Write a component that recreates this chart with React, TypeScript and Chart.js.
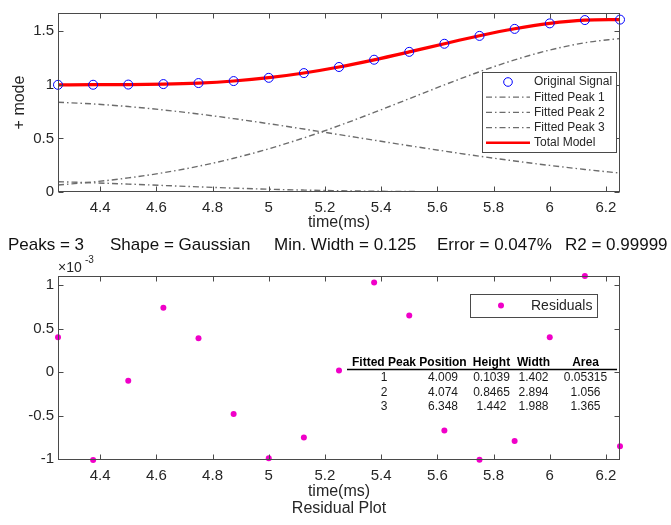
import React, { useEffect, useRef } from "react";
import { Chart, registerables } from "chart.js";

Chart.register(...registerables);

// ---------- data ----------
const timeMs = [4.25, 4.375, 4.5, 4.625, 4.75, 4.875, 5.0, 5.125, 5.25, 5.375, 5.5, 5.625, 5.75, 5.875, 6.0, 6.125, 6.25];
const originalSignal = [0.9998, 1.0005, 1.0023, 1.0068, 1.0164, 1.0349, 1.0653, 1.1094, 1.1663, 1.2341, 1.3076, 1.383, 1.4564, 1.5218, 1.5732, 1.6042, 1.6082];
const fittedPeak1 = [0.0957, 0.086, 0.0739, 0.0608, 0.0479, 0.0361, 0.026, 0.0179, 0.0118, 0.0075, 0.0045, 0.0026, 0.0014, 0.0008, 0.0004, 0.0002, 0.0001];
const fittedPeak2 = [0.8379, 0.8215, 0.7971, 0.7656, 0.7277, 0.6846, 0.6373, 0.5872, 0.5356, 0.4834, 0.4318, 0.3818, 0.334, 0.2893, 0.2479, 0.2103, 0.1766];
const fittedPeak3 = [0.0658, 0.094, 0.1314, 0.1797, 0.2404, 0.3147, 0.403, 0.505, 0.6189, 0.7422, 0.8707, 0.9993, 1.122, 1.2325, 1.3245, 1.3926, 1.4323];
const totalModel = [0.9994, 1.0015, 1.0024, 1.0061, 1.016, 1.0354, 1.0663, 1.1101, 1.1663, 1.2331, 1.307, 1.3837, 1.4574, 1.5226, 1.5728, 1.6031, 1.609];
// residuals in units of 1e-3
const residualsE3 = [0.4, -1.008, -0.1, 0.74, 0.39, -0.48, -0.99, -0.75, 0.02, 1.03, 0.65, -0.67, -1.005, -0.79, 0.4, 1.104, -0.85];

const xTicks = [4.4, 4.6, 4.8, 5, 5.2, 5.4, 5.6, 5.8, 6, 6.2];
const topYTicks = [0, 0.5, 1, 1.5];
const resYTicks = [-1, -0.5, 0, 0.5, 1];

const legendLabels = ["Original Signal", "Fitted Peak 1", "Fitted Peak 2", "Fitted Peak 3", "Total Model"];
const residualLegendLabel = "Residuals";
const tableHeader = ["Fitted Peak", "Position", "Height", "Width", "Area"];
const tableRows = [
  ["1", "4.009", "0.1039", "1.402", "0.05315"],
  ["2", "4.074", "0.8465", "2.894", "1.056"],
  ["3", "6.348", "1.442", "1.988", "1.365"],
];
const statsItems = ["Peaks = 3", "Shape = Gaussian", "Min. Width = 0.125", "Error = 0.047%", "R2 = 0.99999"];
const xLabel = "time(ms)";
const topYLabel = "+ mode";
const residualTitle = "Residual Plot";

// ---------- styles ----------
const FONT = "'Liberation Sans', Arial, Helvetica, sans-serif";
const AXIS_COLOR = "#4a4a4a";
const TEXT_COLOR = "#262626";
const PEAK_COLOR = "#6c6c6c";
const PEAK_DASH = [6, 3, 1.5, 3];
const BLUE = "#0000ff";
const RED = "#ff0000";
const MAGENTA = "#f000c8";
const W = 671;
const H = 525;

const pts = (ys: number[]) => timeMs.map((x, i) => ({ x, y: ys[i] }));
const fmt = (v: number) => String(Number(v.toFixed(2)));

function drawFrameAndTicks(chart: any, yTicks: number[]) {
  const { ctx, chartArea: a, scales } = chart;
  const L = Math.round(a.left) + 0.5;
  const R = Math.round(a.right) - 0.5;
  const T = Math.round(a.top) + 0.5;
  const B = Math.round(a.bottom) - 0.5;
  ctx.save();
  ctx.strokeStyle = AXIS_COLOR;
  ctx.lineWidth = 1;
  ctx.strokeRect(L, T, R - L, B - T);
  const tl = 5;
  ctx.beginPath();
  xTicks.forEach((v) => {
    const px = Math.round(scales.x.getPixelForValue(v)) + 0.5;
    ctx.moveTo(px, B); ctx.lineTo(px, B - tl);
    ctx.moveTo(px, T); ctx.lineTo(px, T + tl);
  });
  yTicks.forEach((v) => {
    const py = Math.round(scales.y.getPixelForValue(v)) + 0.5;
    ctx.moveTo(L, py); ctx.lineTo(L + tl, py);
    ctx.moveTo(R, py); ctx.lineTo(R - tl, py);
  });
  ctx.stroke();
  ctx.restore();
}

const topPlugin = {
  id: "topDecor",
  afterDatasetsDraw(chart: any) {
    const { ctx } = chart;
    drawFrameAndTicks(chart, topYTicks);
    // legend
    ctx.save();
    const bx = 482, by = 72, bw = 134, bh = 80;
    ctx.fillStyle = "#ffffff";
    ctx.fillRect(bx, by, bw, bh);
    ctx.strokeStyle = AXIS_COLOR;
    ctx.lineWidth = 1;
    ctx.strokeRect(bx + 0.5, by + 0.5, bw, bh);
    ctx.font = `12px ${FONT}`;
    ctx.textBaseline = "middle";
    ctx.textAlign = "left";
    legendLabels.forEach((lab, i) => {
      const y = 82 + i * 15.2;
      if (i === 0) {
        ctx.beginPath();
        ctx.strokeStyle = BLUE;
        ctx.lineWidth = 1;
        ctx.arc(508, y, 4.3, 0, Math.PI * 2);
        ctx.stroke();
      } else if (i < 4) {
        ctx.beginPath();
        ctx.strokeStyle = PEAK_COLOR;
        ctx.lineWidth = 1.3;
        ctx.setLineDash(PEAK_DASH);
        ctx.moveTo(486, y); ctx.lineTo(530, y);
        ctx.stroke();
        ctx.setLineDash([]);
      } else {
        ctx.beginPath();
        ctx.strokeStyle = RED;
        ctx.lineWidth = 2.5;
        ctx.moveTo(486, y); ctx.lineTo(530, y);
        ctx.stroke();
      }
      ctx.fillStyle = TEXT_COLOR;
      ctx.fillText(lab, 534, y);
    });
    ctx.restore();
  },
  afterDraw(chart: any) {
    const { ctx, chartArea: a } = chart;
    ctx.save();
    ctx.fillStyle = TEXT_COLOR;
    ctx.textBaseline = "middle";
    ctx.textAlign = "center";
    ctx.font = `16px ${FONT}`;
    ctx.fillText(xLabel, (a.left + a.right) / 2, 223);
    ctx.save();
    ctx.translate(20, (a.top + a.bottom) / 2);
    ctx.rotate(-Math.PI / 2);
    ctx.fillText(topYLabel, 0, 0);
    ctx.restore();
    // stats line
    ctx.textAlign = "left";
    ctx.fillStyle = "#111111";
    ctx.font = `17px ${FONT}`;
    const xs = [8, 110, 274, 437, 565];
    statsItems.forEach((s, i) => ctx.fillText(s, xs[i], 245));
    ctx.restore();
  },
};

const bottomPlugin = {
  id: "bottomDecor",
  afterDatasetsDraw(chart: any) {
    const { ctx } = chart;
    drawFrameAndTicks(chart, resYTicks);
    ctx.save();
    // legend
    const bx = 470, by = 294, bw = 127, bh = 23;
    ctx.fillStyle = "#ffffff";
    ctx.fillRect(bx, by, bw, bh);
    ctx.strokeStyle = AXIS_COLOR;
    ctx.lineWidth = 1;
    ctx.strokeRect(bx + 0.5, by + 0.5, bw, bh);
    ctx.beginPath();
    ctx.fillStyle = MAGENTA;
    ctx.arc(501, 305.5, 3, 0, Math.PI * 2);
    ctx.fill();
    ctx.fillStyle = TEXT_COLOR;
    ctx.font = `14px ${FONT}`;
    ctx.textBaseline = "middle";
    ctx.textAlign = "left";
    ctx.fillText(residualLegendLabel, 531, 306);
    // table
    const cx = [384, 443, 491.5, 533.5, 585.5];
    ctx.textAlign = "center";
    ctx.fillStyle = "#000000";
    ctx.font = `bold 12px ${FONT}`;
    tableHeader.forEach((h, i) => ctx.fillText(h, cx[i], 362.5));
    ctx.beginPath();
    ctx.strokeStyle = "#000000";
    ctx.lineWidth = 1.5;
    ctx.moveTo(347, 369.5); ctx.lineTo(617, 369.5);
    ctx.stroke();
    ctx.font = `12px ${FONT}`;
    ctx.fillStyle = "#1a1a1a";
    tableRows.forEach((row, r) => {
      const y = 378 + r * 14.2;
      row.forEach((c, i) => ctx.fillText(c, cx[i], y));
    });
    ctx.restore();
  },
  afterDraw(chart: any) {
    const { ctx, chartArea: a } = chart;
    ctx.save();
    ctx.fillStyle = TEXT_COLOR;
    ctx.textBaseline = "middle";
    ctx.textAlign = "center";
    ctx.font = `16px ${FONT}`;
    ctx.fillText(xLabel, (a.left + a.right) / 2, 492);
    ctx.fillText(residualTitle, (a.left + a.right) / 2, 509);
    // exponent label
    ctx.textAlign = "left";
    ctx.font = `14px ${FONT}`;
    ctx.fillText("\u00d710", 58, 268);
    ctx.font = `10px ${FONT}`;
    ctx.fillText("-3", 85, 260);
    ctx.restore();
  },
};

function makeScales(yMin: number, yMax: number, yTicks: number[]) {
  return {
    x: {
      type: "linear" as const,
      min: 4.25,
      max: 6.25,
      grid: { display: false, drawTicks: false },
      border: { display: false },
      afterBuildTicks: (s: any) => { s.ticks = xTicks.map((v) => ({ value: v })); },
      afterFit: (s: any) => { s.height = 30; },
      ticks: {
        autoSkip: false,
        maxRotation: 0,
        padding: 7,
        color: TEXT_COLOR,
        font: { family: FONT, size: 15 },
        callback: (v: any) => fmt(Number(v)),
      },
    },
    y: {
      type: "linear" as const,
      min: yMin,
      max: yMax,
      grid: { display: false, drawTicks: false },
      border: { display: false },
      afterBuildTicks: (s: any) => { s.ticks = yTicks.map((v) => ({ value: v })); },
      afterFit: (s: any) => { s.width = 58; },
      ticks: {
        autoSkip: false,
        padding: 4,
        color: TEXT_COLOR,
        font: { family: FONT, size: 15 },
        callback: (v: any) => fmt(Number(v)),
      },
    },
  };
}

export default function App() {
  const topRef = useRef<HTMLCanvasElement>(null);
  const botRef = useRef<HTMLCanvasElement>(null);

  useEffect(() => {
    const peakDs = (ys: number[], order: number) => ({
      data: pts(ys),
      borderColor: PEAK_COLOR,
      borderWidth: 1.4,
      borderDash: PEAK_DASH,
      pointRadius: 0,
      fill: false,
      cubicInterpolationMode: "monotone" as const,
      order,
    });
    const top = new Chart(topRef.current!, {
      type: "line",
      data: {
        datasets: [
          {
            data: pts(originalSignal),
            showLine: false,
            pointRadius: 4.5,
            pointBorderWidth: 1,
            pointBorderColor: BLUE,
            pointBackgroundColor: "rgba(0,0,0,0)",
            borderColor: BLUE,
            clip: false as any,
            order: 0,
          },
          peakDs(fittedPeak1, 2),
          peakDs(fittedPeak2, 3),
          peakDs(fittedPeak3, 4),
          {
            data: pts(totalModel),
            borderColor: RED,
            borderWidth: 3.2,
            pointRadius: 0,
            fill: false,
            cubicInterpolationMode: "monotone" as const,
            order: 1,
          },
        ],
      },
      options: {
        animation: false,
        responsive: false,
        devicePixelRatio: 1,
        layout: { padding: { left: 0, right: 51, top: 8, bottom: H - 192 - 30 } },
        plugins: { legend: { display: false }, tooltip: { enabled: false } },
        scales: makeScales(0, 1.67, topYTicks) as any,
      },
      plugins: [topPlugin],
    });

    const bottom = new Chart(botRef.current!, {
      type: "line",
      data: {
        datasets: [
          {
            data: pts(residualsE3),
            showLine: false,
            pointRadius: 3,
            pointBorderWidth: 0,
            pointBackgroundColor: MAGENTA,
            borderColor: MAGENTA,
            clip: false as any,
          },
        ],
      },
      options: {
        animation: false,
        responsive: false,
        devicePixelRatio: 1,
        layout: { padding: { left: 0, right: 51, top: 276, bottom: H - 460 - 30 } },
        plugins: { legend: { display: false }, tooltip: { enabled: false } },
        scales: makeScales(-1.009, 1.104, resYTicks) as any,
      },
      plugins: [bottomPlugin],
    });

    return () => {
      top.destroy();
      bottom.destroy();
    };
  }, []);

  return (
    <div style={{ position: "fixed", left: 0, top: 0, width: W, height: H, background: "#ffffff" }}>
      <canvas ref={topRef} width={W} height={H} style={{ position: "absolute", left: 0, top: 0, width: W, height: H }} />
      <canvas ref={botRef} width={W} height={H} style={{ position: "absolute", left: 0, top: 0, width: W, height: H }} />
    </div>
  );
}
